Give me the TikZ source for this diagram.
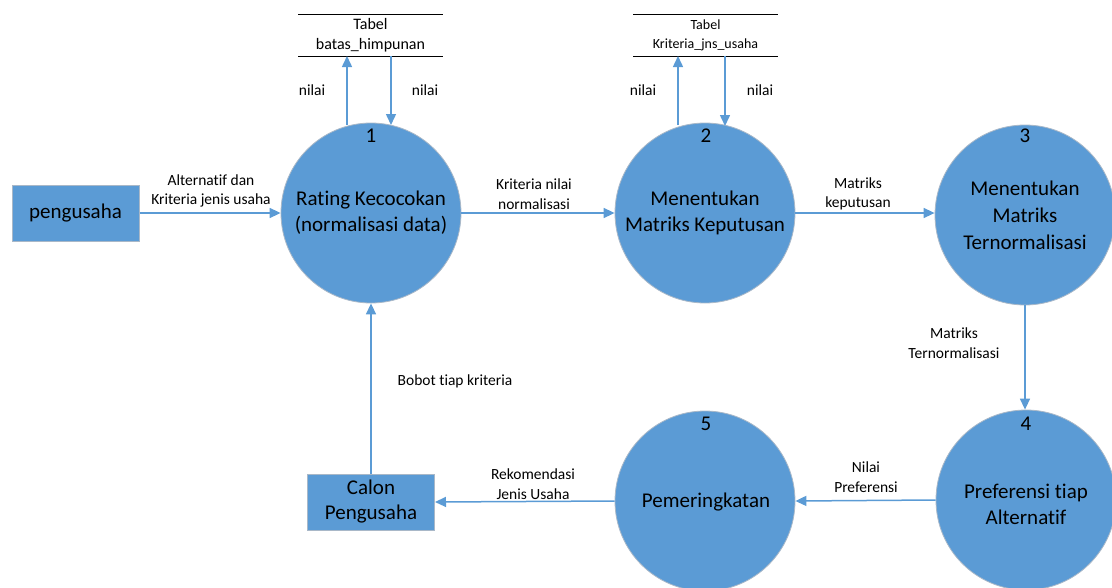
\documentclass[tikz,border=0pt]{standalone}
\usepackage{fontspec}
\setmainfont[Ligatures=NoCommon]{Carlito}
\usetikzlibrary{arrows.meta}
\definecolor{proc}{HTML}{5B9BD5}
\definecolor{edge}{HTML}{A9B8C8}
\definecolor{arr}{HTML}{5B9BD5}
\begin{document}
\begin{tikzpicture}[x=1pt,y=-1pt,
  procc/.style={circle,fill=proc,draw=edge,line width=0.8pt,minimum size=180pt,inner sep=0pt},
  ent/.style={rectangle,fill=proc,draw=edge,line width=1pt,minimum width=127pt,minimum height=56pt,inner sep=0pt,font=\fontsize{21}{25}\selectfont,align=center},
  big/.style={font=\fontsize{21}{26}\selectfont,align=center,inner sep=0pt},
  num/.style={font=\fontsize{21}{22}\selectfont,inner sep=0pt},
  lbl/.style={font=\fontsize{15.5}{19.5}\selectfont,align=center,inner sep=0pt},
  flow/.style={draw=arr,line width=1.5pt,-{Triangle[width=10pt,length=11pt]}},
  tline/.style={draw=black,line width=0.9pt}]
\useasboundingbox (0,0) rectangle (1112,587);
% processes
\node[procc] (p1) at (371,213) {};
\node[procc] (p2) at (705,213) {};
\node[procc] (p3) at (1025,215) {};
\node[procc] (p4) at (1026,500) {};
\node[procc] (p5) at (705,501) {};
\node[num] (n1) at (371,136) {1};
\node[num] (n2) at (706,136) {2};
\node[num] (n3) at (1025,136) {3};
\node[num] (n4) at (1026,424) {4};
\node[num] (n5) at (706,424) {5};
\node[big] (t1) at (371,213) {Rating Kecocokan\\(normalisasi data)};
\node[big] (t2) at (705,213) {Menentukan\\Matriks Keputusan};
\node[big,font=\fontsize{21}{27}\selectfont] (t3) at (1025,215) {Menentukan\\Matriks\\Ternormalisasi};
\node[big] (t4) at (1026,504) {Preferensi tiap\\Alternatif};
\node[big] (t5) at (706,502) {Pemeringkatan};
% entities
\node[ent] (e1) at (75.5,213) {pengusaha};
\node[ent] (e2) at (371,502) {Calon\\Pengusaha};
% data stores
\coordinate (s1a) at (298,14); \coordinate (s1b) at (443,14);
\coordinate (s1c) at (298,56); \coordinate (s1d) at (443,56);
\draw[tline] (s1a) -- (s1b); \draw[tline] (s1c) -- (s1d);
\node[lbl,font=\fontsize{16}{20}\selectfont] (ds1) at (370.5,35) {Tabel\\batas\_himpunan};
\coordinate (s2a) at (633,14); \coordinate (s2b) at (778,14);
\coordinate (s2c) at (633,56); \coordinate (s2d) at (778,56);
\draw[tline] (s2a) -- (s2b); \draw[tline] (s2c) -- (s2d);
\node[lbl,font=\fontsize{14}{19}\selectfont] (ds2) at (705.5,35) {Tabel\\Kriteria\_jns\_usaha};
% store arrows
\coordinate (u1s) at (347,125); \coordinate (u1e) at (347,56);
\coordinate (d1s) at (391,56); \coordinate (d1e) at (391,125);
\draw[flow] (u1s) -- (u1e);
\draw[flow] (d1s) -- (d1e);
\coordinate (u2s) at (678,125); \coordinate (u2e) at (678,56);
\coordinate (d2s) at (725,56); \coordinate (d2e) at (725,126);
\draw[flow] (u2s) -- (u2e);
\draw[flow] (d2s) -- (d2e);
\node[lbl] (l1) at (312,90) {nilai};
\node[lbl] (l2) at (425,90) {nilai};
\node[lbl] (l3) at (643,90) {nilai};
\node[lbl] (l4) at (760,90) {nilai};
% main flows
\draw[flow] (e1.east) -- (p1.west);
\draw[flow] (p1.east) -- (p2.west);
\draw[flow] (p2.east) -- (p3.west |- p2.east);
\draw[flow] (p3.south) -- (p4.north -| p3.south);
\draw[flow] (p4.west) -- (p5.east);
\draw[flow] (p5.west) -- (e2.east);
\draw[flow] (e2.north) -- (p1.south);
% labels
\node[lbl] (a1) at (211,191) {Alternatif dan\\Kriteria jenis usaha};
\node[lbl] (a2) at (534,194) {Kriteria nilai\\normalisasi};
\node[lbl] (a3) at (858,194) {Matriks\\keputusan};
\node[lbl] (a4) at (954,343) {Matriks\\Ternormalisasi};
\node[lbl] (a5) at (866,477) {Nilai\\Preferensi};
\node[lbl] (a6) at (533,484) {Rekomendasi\\Jenis Usaha};
\node[lbl] (a7) at (455,381) {Bobot tiap kriteria};
\end{tikzpicture}
\end{document}
